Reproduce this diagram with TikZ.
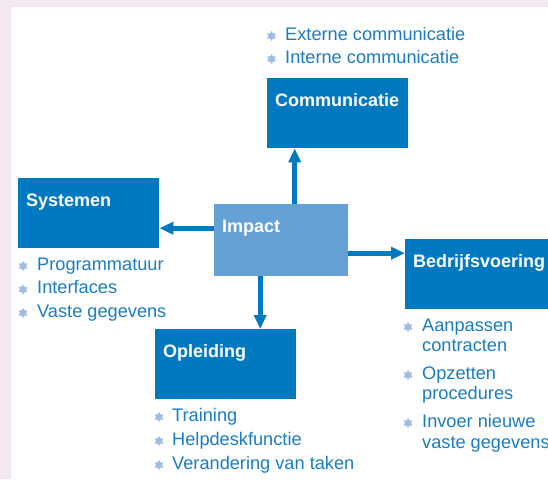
\documentclass[tikz,border=0pt]{standalone}
\usepackage{fontspec}
\setmainfont{Liberation Sans}
\usetikzlibrary{arrows.meta,shapes.geometric}
\definecolor{vakblauw}{HTML}{0079C1}
\definecolor{impactblauw}{HTML}{66A1D6}
\definecolor{tekstblauw}{HTML}{1A7DC4}
\definecolor{sterblauw}{HTML}{A0BCE2}
\definecolor{rand}{HTML}{F3E7F1}
\tikzset{
    vak/.style={fill=vakblauw,anchor=north west,inner sep=0pt,
        minimum width=141pt,minimum height=70pt,
        label={[titel]north west:#1}},
    titel/.style={white,font=\bfseries\fontsize{18}{20}\selectfont,
        anchor=base west,inner sep=0pt,xshift=8pt,yshift=-28pt},
    punt/.style={tekstblauw,font=\fontsize{18.2}{20}\selectfont,
        anchor=base west,inner sep=0pt},
    ster/.style={star,star points=6,star point ratio=1.7,fill=sterblauw,
        inner sep=0pt,minimum size=10pt},
    pijl/.style={vakblauw,line width=4.8pt,-{Triangle[length=14pt,width=12pt]}}
}

\begin{document}
\begin{tikzpicture}[x=1pt,y=-1pt]
    \fill [rand] (0,0) rectangle (548,479);
    \fill [white] (10.7,7.3) rectangle (548,479);
    \useasboundingbox (0,0) rectangle (548,479);

    % de vijf vakken
    \node [vak=Systemen] (sys) at (18,178) {};
    \node [vak=Communicatie] (com) at (267,78) {};
    \node [vak=Bedrijfsvoering, minimum width=143pt] (bv) at (405,239) {};
    \node [vak=Opleiding] (opl) at (155,329) {};
    \node [vak=Impact, fill=impactblauw, minimum width=134pt, minimum height=72pt] (imp) at (214,204) {};

    % pijlen vanuit impact
    \coordinate (op) at ([xshift=13.5pt]imp.north);
    \coordinate (li) at ([yshift=12pt]imp.west);
    \coordinate (re) at ([yshift=-13pt]imp.east);
    \coordinate (on) at ([xshift=-21pt]imp.south);
    \draw [pijl] (op) -- (op |- com.south);
    \draw [pijl] (li) -- (li -| sys.east);
    \draw [pijl] (re) -- (re -| bv.west);
    \draw [pijl] (on) -- (on |- opl.north);

    % opsommingen
    \foreach \tekst [count=\i] in {Externe communicatie,Interne communicatie} {
        \node [punt] (com-\i) at (285,{40+23*(\i-1)}) {\tekst};
        \node [ster] (com-s\i) at (271.5,{36+23*(\i-1)}) {};
    }
    \foreach \tekst [count=\i] in {Programmatuur,Interfaces,Vaste gegevens} {
        \node [punt] (sys-\i) at (37,{270+23.5*(\i-1)}) {\tekst};
        \node [ster] (sys-s\i) at (23,{266+23.5*(\i-1)}) {};
    }
    \foreach \tekst [count=\i] in {Training,Helpdeskfunctie,Verandering van taken} {
        \node [punt] (opl-\i) at (172,{421+24*(\i-1)}) {\tekst};
        \node [ster] (opl-s\i) at (159,{417+24*(\i-1)}) {};
    }
    \foreach \y/\tekst [count=\i] in {331/Aanpassen,351/contracten,379/Opzetten,
            399/procedures,427/Invoer nieuwe,448/vaste gegevens} {
        \node [punt] (bv-\i) at (422,\y) {\tekst};
    }
    \foreach \y [count=\i] in {327,375,423} {
        \node [ster] (bv-s\i) at (408,\y) {};
    }
\end{tikzpicture}
\end{document}
